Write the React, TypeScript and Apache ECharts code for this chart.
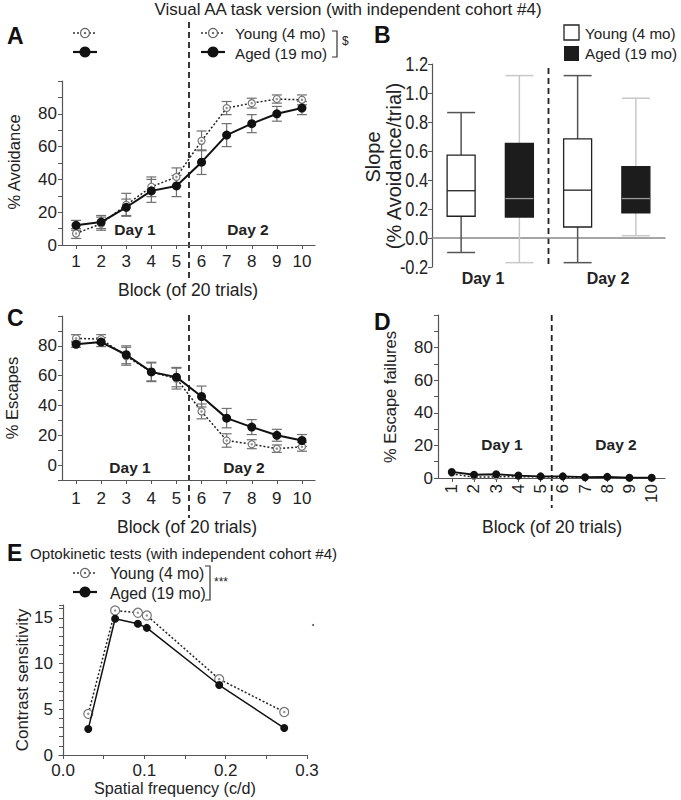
import React, { useEffect, useRef } from 'react';
import * as echarts from 'echarts';

// ---------- data ----------
const blocks = [1, 2, 3, 4, 5, 6, 7, 8, 9, 10];
const avoidYoung = [7, 13, 24.5, 35.5, 41.5, 63.5, 83.5, 86.5, 89, 88.5];
const avoidYoungErr = [3, 4, 7, 6, 5.5, 6, 4, 3, 2.5, 3];
const avoidAged = [12, 14, 23, 33, 36, 50.5, 67, 74, 80, 83.5];
const avoidAgedErr = [3, 4, 5, 7, 6.5, 7.5, 7, 5.5, 4.5, 4];
const escYoung = [85, 84.5, 73, 62.5, 58, 36, 16.5, 14, 11, 12.3];
const escYoungErr = [2.5, 3, 6, 6, 7, 5, 4.5, 3, 2.5, 3];
const escAged = [81, 82.5, 74, 62.5, 59, 46, 31.5, 25.5, 20, 16.5];
const escAgedErr = [2, 3, 6, 6.5, 6.5, 7, 6.5, 5, 4, 4];
const failYoung = [2.5, 0.5, 0.7, 0.8, 0.7, 0.4, 0.4, 0.3, 0.1, 0.1];
const failAged = [3.7, 2, 2.3, 1.5, 1, 1, 0.5, 0.7, 0.2, 0.2];
const boxGroups = ['Young Day 1', 'Aged Day 1', 'Young Day 2', 'Aged Day 2'];
// [min, Q1, median, Q3, max] for day 1 and day 2
const slopeYoung = [
  [-0.1, 0.15, 0.326, 0.571, 0.865],
  [-0.17, 0.076, 0.33, 0.683, 1.12],
];
const slopeAged = [
  [-0.17, 0.144, 0.272, 0.652, 1.12],
  [0.016, 0.173, 0.272, 0.492, 0.964],
];
const slopeTicks = [-0.2, 0, 0.2, 0.4, 0.6, 0.8, 1.0, 1.2];
const freq = [0.031, 0.064, 0.092, 0.103, 0.192, 0.272];
const csYoung = [4.5, 15.8, 15.55, 15.25, 8.3, 4.7];
const csAged = [2.85, 14.9, 14.35, 13.9, 7.65, 2.95];
const freqTicks = [0, 0.05, 0.1, 0.15, 0.2, 0.25, 0.3];
const freqLabels = [0, 0.1, 0.2, 0.3];

const FONT = '"Liberation Sans", Arial, Helvetica, sans-serif';
const AXIS = '#555';

const pairs = (xs: number[], ys: number[]) => xs.map((x, i) => [x, ys[i]]);
const errs = (xs: number[], ys: number[], es: number[]) => xs.map((x, i) => [x, ys[i] - es[i], ys[i] + es[i]]);

const errRender = (color: string) => (params: any, api: any) => {
  const x = api.value(0);
  const p1 = api.coord([x, api.value(1)]);
  const p2 = api.coord([x, api.value(2)]);
  const w = 5;
  const st = { stroke: color, lineWidth: 1.2 };
  return {
    type: 'group',
    children: [
      { type: 'line', shape: { x1: p1[0], y1: p1[1], x2: p2[0], y2: p2[1] }, style: st },
      { type: 'line', shape: { x1: p1[0] - w, y1: p1[1], x2: p1[0] + w, y2: p1[1] }, style: st },
      { type: 'line', shape: { x1: p2[0] - w, y1: p2[1], x2: p2[0] + w, y2: p2[1] }, style: st },
    ],
  };
};

const boxRender = (fill: string, border: string, whisker: string, median: string) => (params: any, api: any) => {
  const x = api.value(0);
  const lo = api.coord([x, api.value(1)]);
  const q1 = api.coord([x, api.value(2)]);
  const md = api.coord([x, api.value(3)]);
  const q3 = api.coord([x, api.value(4)]);
  const hi = api.coord([x, api.value(5)]);
  const cx = lo[0];
  const h = 14;
  const ws = { stroke: whisker, lineWidth: 1.5 };
  return {
    type: 'group',
    children: [
      { type: 'line', shape: { x1: cx, y1: lo[1], x2: cx, y2: q1[1] }, style: ws },
      { type: 'line', shape: { x1: cx, y1: q3[1], x2: cx, y2: hi[1] }, style: ws },
      { type: 'line', shape: { x1: cx - h, y1: lo[1], x2: cx + h, y2: lo[1] }, style: ws },
      { type: 'line', shape: { x1: cx - h, y1: hi[1], x2: cx + h, y2: hi[1] }, style: ws },
      { type: 'rect', shape: { x: cx - h, y: q3[1], width: 2 * h, height: q1[1] - q3[1] }, style: { fill, stroke: border, lineWidth: 1.3 } },
      { type: 'line', shape: { x1: cx - h, y1: md[1], x2: cx + h, y2: md[1] }, style: { stroke: median, lineWidth: 1.3 } },
    ],
  };
};

const blockAxis = (grid: number, min: number, max: number, rotate = 0, margin = 8) => ({
  type: 'value', gridIndex: grid, min, max,
  axisLine: { onZero: false, lineStyle: { color: AXIS, width: 1.2 } },
  axisTick: { customValues: blocks, length: 4, lineStyle: { color: AXIS } },
  axisLabel: { customValues: blocks, fontSize: 17, fontFamily: FONT, color: '#222', rotate, margin },
  splitLine: { show: false },
});

const pctAxis = (grid: number, min: number) => ({
  type: 'value', gridIndex: grid, min, max: 100, interval: 10,
  axisLine: { show: true, lineStyle: { color: AXIS, width: 1.2 } },
  axisTick: { show: true, length: 4, lineStyle: { color: AXIS } },
  axisLabel: {
    fontSize: 17, fontFamily: FONT, color: '#222', margin: 5,
    formatter: (v: number) => (v >= 0 && v <= 80 && Math.round(v) % 20 === 0 ? String(Math.round(v)) : ''),
  },
  splitLine: { show: false },
});

const youngLine = (xi: number, data: number[][], size = 7) => ([
  {
    type: 'line', xAxisIndex: xi, yAxisIndex: xi, data, symbol: 'circle', symbolSize: size,
    lineStyle: { color: '#222', width: 1.5, type: [2, 2] },
    itemStyle: { color: '#fff', borderColor: '#777', borderWidth: 1.2 }, z: 3, silent: true,
  },
  {
    type: 'scatter', xAxisIndex: xi, yAxisIndex: xi, data, symbol: 'circle', symbolSize: 2.5,
    itemStyle: { color: '#777' }, z: 4, silent: true,
  },
]);
const agedLine = (xi: number, data: number[][], size = 9, width = 2) => ({
  type: 'line', xAxisIndex: xi, yAxisIndex: xi, data, symbol: 'circle', symbolSize: size,
  lineStyle: { color: '#111', width }, itemStyle: { color: '#111' }, z: 5, silent: true,
});
const errSeries = (xi: number, data: number[][]) => ({
  type: 'custom', xAxisIndex: xi, yAxisIndex: xi, data, renderItem: errRender('#707070'),
  encode: { x: 0, y: [1, 2] }, z: 2, silent: true,
});

const txt = (text: string, x: number, y: number, size: number, extra: any = {}) => ({
  type: 'text', x, y, rotation: extra.rotation || 0, scaleX: extra.scaleX || 1, silent: true,
  style: {
    text, fontSize: size, fontFamily: FONT, fontWeight: extra.weight || 'normal',
    fill: extra.fill || '#222', align: extra.align || 'left', verticalAlign: 'middle',
  },
});
const dash = (x: number, y1: number, y2: number) => ({
  type: 'line', silent: true, shape: { x1: x, y1, x2: x, y2 },
  style: { stroke: '#222', lineWidth: 1.8, lineDash: [6, 4] },
});
const legYoung = (x: number, y: number) => ([
  { type: 'line', silent: true, shape: { x1: x, y1: y, x2: x + 24, y2: y }, style: { stroke: '#333', lineWidth: 1.5, lineDash: [2, 2] } },
  { type: 'circle', silent: true, shape: { cx: x + 12, cy: y, r: 4.5 }, style: { fill: '#fff', stroke: '#666', lineWidth: 1.2 } },
  { type: 'circle', silent: true, shape: { cx: x + 12, cy: y, r: 1.2 }, style: { fill: '#666' } },
]);
const legAged = (x: number, y: number) => ([
  { type: 'line', silent: true, shape: { x1: x, y1: y, x2: x + 24, y2: y }, style: { stroke: '#111', lineWidth: 2.2 } },
  { type: 'circle', silent: true, shape: { cx: x + 12, cy: y, r: 5.5 }, style: { fill: '#111' } },
]);
const bracket = (x: number, y1: number, y2: number) => ({
  type: 'polyline', silent: true,
  shape: { points: [[x, y1], [x + 5, y1], [x + 5, y2], [x, y2]] },
  style: { stroke: '#333', lineWidth: 1.2, fill: 'none' },
});

export default function App() {
  const ref = useRef<HTMLDivElement>(null);
  useEffect(() => {
    if (!ref.current) return;
    const chart = echarts.init(ref.current, undefined, { renderer: 'svg' });
    const option: any = {
      animation: false,
      grid: [
        { left: 62, top: 81, width: 253, height: 164 },
        { left: 432, top: 64, width: 233, height: 203 },
        { left: 62, top: 316, width: 253, height: 164 },
        { left: 438, top: 315, width: 227, height: 163 },
        { left: 59, top: 605, width: 248, height: 150 },
      ],
      xAxis: [
        blockAxis(0, 0.44, 10.52, 0, 8),
        {
          type: 'category', gridIndex: 1, data: boxGroups,
          axisLine: { onZero: true, lineStyle: { color: '#888', width: 1.5 } },
          axisTick: { show: false }, axisLabel: { show: false },
        },
        blockAxis(2, 0.44, 10.52, 0, 10),
        blockAxis(3, 0.38, 10.6, 90, 6),
        {
          type: 'value', gridIndex: 4, min: -0.005, max: 0.3,
          axisLine: { onZero: false, lineStyle: { color: AXIS, width: 1.2 } },
          axisTick: { customValues: freqTicks, length: 4, lineStyle: { color: AXIS } },
          axisLabel: {
            customValues: freqLabels,
            fontSize: 17, fontFamily: FONT, color: '#222', margin: 7,
            formatter: (v: number) => v.toFixed(1),
          },
          splitLine: { show: false },
        },
      ],
      yAxis: [
        pctAxis(0, 0),
        {
          type: 'value', gridIndex: 1, min: -0.2, max: 1.2, interval: 0.2,
          axisLine: { show: true, lineStyle: { color: AXIS, width: 1.2 } },
          axisTick: { show: true, length: 4, lineStyle: { color: AXIS } },
          axisLabel: { show: false },
          splitLine: { show: false },
        },
        pctAxis(2, -10),
        pctAxis(3, 0),
        {
          type: 'value', gridIndex: 4, min: 0, max: 16.4, interval: 1,
          axisLine: { show: true, lineStyle: { color: AXIS, width: 1.2 } },
          axisTick: { show: true, length: 4, lineStyle: { color: AXIS } },
          axisLabel: {
            fontSize: 17, fontFamily: FONT, color: '#222', margin: 6,
            formatter: (v: number) => (Math.round(v) % 5 === 0 ? String(Math.round(v)) : ''),
          },
          splitLine: { show: false },
        },
      ],
      series: [
        errSeries(0, errs(blocks, avoidYoung, avoidYoungErr)),
        errSeries(0, errs(blocks, avoidAged, avoidAgedErr)),
        ...youngLine(0, pairs(blocks, avoidYoung)),
        agedLine(0, pairs(blocks, avoidAged)),
        {
          type: 'custom', xAxisIndex: 1, yAxisIndex: 1, silent: true, z: 3,
          data: [[0, ...slopeYoung[0]], [2, ...slopeYoung[1]]],
          encode: { x: 0, y: [1, 2, 3, 4, 5] },
          renderItem: boxRender('#fff', '#222', '#555', '#222'),
        },
        {
          type: 'custom', xAxisIndex: 1, yAxisIndex: 1, silent: true, z: 3,
          data: [[1, ...slopeAged[0]], [3, ...slopeAged[1]]],
          encode: { x: 0, y: [1, 2, 3, 4, 5] },
          renderItem: boxRender('#1c1c1c', '#1c1c1c', '#c8c8c8', '#9a9a9a'),
        },
        errSeries(2, errs(blocks, escYoung, escYoungErr)),
        errSeries(2, errs(blocks, escAged, escAgedErr)),
        ...youngLine(2, pairs(blocks, escYoung)),
        agedLine(2, pairs(blocks, escAged)),
        ...youngLine(3, pairs(blocks, failYoung), 5),
        agedLine(3, pairs(blocks, failAged), 8, 1.8),
        ...youngLine(4, pairs(freq, csYoung), 9),
        agedLine(4, pairs(freq, csAged), 8, 1.5),
      ],
    };
    chart.setOption(option);

    const xA = chart.convertToPixel({ xAxisIndex: 0 }, 5.5) as number;
    const xC = chart.convertToPixel({ xAxisIndex: 2 }, 5.5) as number;
    const xD = chart.convertToPixel({ xAxisIndex: 3 }, 5.5) as number;
    const b1 = chart.convertToPixel({ xAxisIndex: 1 }, 1) as number;
    const b2 = chart.convertToPixel({ xAxisIndex: 1 }, 2) as number;
    const xB = (b1 + b2) / 2;
    const bAxisX = chart.convertToPixel({ xAxisIndex: 1 }, 0) as number - 29;

    const slopeLabels = slopeTicks.map((v) =>
      txt(v.toFixed(1), bAxisX - 4, chart.convertToPixel({ yAxisIndex: 1 }, v) as number, 21, { align: 'right', scaleX: 0.78 })
    );

    const graphic: any[] = [
      txt('Visual AA task version (with independent cohort #4)', 348, 9, 17, { align: 'center' }),
      // panel letters
      txt('A', 7, 36, 23, { weight: 'bold', fill: '#111' }),
      txt('B', 374, 35, 23, { weight: 'bold', fill: '#111' }),
      txt('C', 7, 318, 23, { weight: 'bold', fill: '#111' }),
      txt('D', 374, 322, 23, { weight: 'bold', fill: '#111' }),
      txt('E', 7, 553, 23, { weight: 'bold', fill: '#111' }),
      // dividers
      dash(xA, 22, 282),
      dash(xC, 315, 518),
      dash(xB, 68, 265),
      dash(xD, 315, 508),
      // panel A legend
      ...legYoung(73, 33),
      ...legAged(73, 52),
      ...legYoung(201, 33),
      ...legAged(201, 52),
      txt('Young (4 mo)', 235, 33, 15.2),
      txt('Aged (19 mo)', 235, 53, 15.2),
      bracket(332, 31, 57),
      txt('$', 342, 41, 12, { fill: '#222' }),
      // axis titles
      txt('% Avoidance', 14, 162, 16.5, { rotation: Math.PI / 2, align: 'center' }),
      txt('Block (of 20 trials)', 188, 290, 17.5, { align: 'center' }),
      txt('Day 1', 135, 229, 15.5, { weight: 'bold', align: 'center' }),
      txt('Day 2', 248, 229, 15.5, { weight: 'bold', align: 'center' }),
      // panel B
      ...slopeLabels,
      { type: 'rect', silent: true, shape: { x: 564, y: 25, width: 15, height: 15 }, style: { fill: '#fff', stroke: '#222', lineWidth: 1.3 } },
      { type: 'rect', silent: true, shape: { x: 564, y: 46, width: 15, height: 15 }, style: { fill: '#1c1c1c' } },
      txt('Young (4 mo)', 585, 33, 15.2),
      txt('Aged (19 mo)', 585, 53, 15.2),
      txt('Slope', 373, 157, 20, { rotation: Math.PI / 2, align: 'center' }),
      txt('(% Avoidance/trial)', 394, 166, 20, { rotation: Math.PI / 2, align: 'center' }),
      txt('Day 1', 483, 278, 16, { weight: 'bold', align: 'center' }),
      txt('Day 2', 608, 278, 16, { weight: 'bold', align: 'center' }),
      // panel C
      txt('% Escapes', 12, 398, 16.5, { rotation: Math.PI / 2, align: 'center' }),
      txt('Block (of 20 trials)', 187, 527, 17.5, { align: 'center' }),
      txt('Day 1', 130, 467, 15.5, { weight: 'bold', align: 'center' }),
      txt('Day 2', 244, 467, 15.5, { weight: 'bold', align: 'center' }),
      // panel D
      txt('% Escape failures', 390, 397, 16.5, { rotation: Math.PI / 2, align: 'center' }),
      txt('Block (of 20 trials)', 552, 527, 17.5, { align: 'center' }),
      txt('Day 1', 502, 444, 15.5, { weight: 'bold', align: 'center' }),
      txt('Day 2', 616, 444, 15.5, { weight: 'bold', align: 'center' }),
      // panel E
      txt('Optokinetic tests (with independent cohort #4)', 30, 553, 15.1),
      ...legYoung(73, 573),
      ...legAged(73, 592),
      txt('Young (4 mo)', 110, 573, 15.8),
      txt('Aged (19 mo)', 110, 593, 15.8),
      bracket(205, 566, 600),
      txt('***', 214, 582, 12),
      txt('Contrast sensitivity', 22, 680, 17, { rotation: Math.PI / 2, align: 'center' }),
      txt('Spatial frequency (c/d)', 175, 788, 16.2, { align: 'center' }),
      { type: 'circle', silent: true, shape: { cx: 313, cy: 625, r: 1 }, style: { fill: '#555' } },
    ];
    chart.setOption({ graphic });

    return () => chart.dispose();
  }, []);
  return <div ref={ref} style={{ position: 'absolute', left: 0, top: 0, width: 681, height: 800 }} />;
}
